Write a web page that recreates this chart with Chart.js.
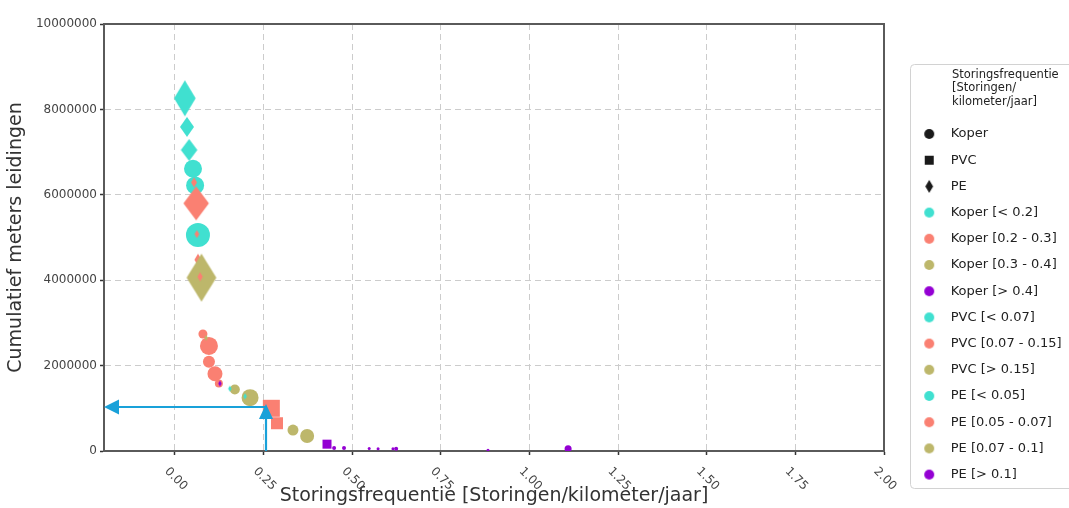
<!DOCTYPE html>
<html>
<head>
<meta charset="utf-8">
<script src="https://cdn.jsdelivr.net/npm/chart.js@4"></script>
<style>
  html, body { margin: 0; padding: 0; background: #fff; overflow: hidden; }
  #wrap { width: 1100px; height: 508px; }
</style>
</head>
<body>
<div id="wrap"><canvas id="c" width="1100" height="508"></canvas></div>
<script>
// Axis ticks
const xTickValues = [0, 0.25, 0.5, 0.75, 1, 1.25, 1.5, 1.75, 2];
const xTickLabels = ['0.00', '0.25', '0.50', '0.75', '1.00', '1.25', '1.50', '1.75', '2.00'];
const yTickValues = [0, 2000000, 4000000, 6000000, 8000000, 10000000];
const yTickLabels = ['0', '2000000', '4000000', '6000000', '8000000', '10000000'];

// Frequency classes: 0 lowest ... 3 highest
const classColors = ['#40E0D0', '#FA8072', '#BDB76B', '#9400D3'];

// Koper (circles)
const koperFreq   = [0.051, 0.057, 0.065, 0.079, 0.096, 0.096, 0.113, 0.124, 0.169, 0.212, 0.333, 0.373, 0.449, 0.477, 0.548, 0.573, 0.615, 0.624, 0.883, 1.109];
const koperMeters = [6610000, 6220000, 5060000, 2740000, 2460000, 2090000, 1810000, 1580000, 1440000, 1250000, 490000, 350000, 70000, 70000, 60000, 50000, 50000, 50000, 20000, 50000];
const koperClass  = [0, 0, 0, 1, 1, 1, 1, 1, 2, 2, 2, 2, 3, 3, 3, 3, 3, 3, 3, 3];

// PVC (squares)
const pvcFreq   = [0.272, 0.288, 0.429];
const pvcMeters = [1000000, 650000, 160000];
const pvcClass  = [1, 1, 3];

// PE (thin diamonds)
const peFreq   = [0.028, 0.034, 0.040, 0.054, 0.060, 0.062, 0.065, 0.075, 0.071, 0.088, 0.127, 0.155, 0.198];
const peMeters = [8260000, 7590000, 7050000, 6290000, 5800000, 5080000, 4480000, 4060000, 4080000, 2650000, 1580000, 1460000, 1280000];
const peClass  = [0, 0, 0, 1, 1, 1, 1, 2, 1, 2, 3, 0, 0];

// Marker sizes (px)
const koperRadius  = [9, 9, 12, 4.5, 9, 6, 7.5, 4, 5, 8.5, 5.5, 7, 2, 2, 1.5, 1.5, 1.5, 2, 1.5, 3.5];
const pvcHalfSide  = [8.5, 6, 4.5];
const peHalfHeight = [18, 10, 11, 5, 17, 4, 6, 24, 4.5, 3, 3, 3, 3];
const peWidthRatio = [0.6, 0.7, 0.75, 0.6, 0.75, 0.6, 0.6, 0.62, 0.6, 0.6, 0.6, 0.6, 0.6];

// Legend
const legendTitleLines = ['Storingsfrequentie', '[Storingen/', 'kilometer/jaar]'];
const legendLabels = ['Koper', 'PVC', 'PE',
  'Koper [< 0.2]', 'Koper [0.2 - 0.3]', 'Koper [0.3 - 0.4]', 'Koper [> 0.4]',
  'PVC [< 0.07]', 'PVC [0.07 - 0.15]', 'PVC [> 0.15]',
  'PE [< 0.05]', 'PE [0.05 - 0.07]', 'PE [0.07 - 0.1]', 'PE [> 0.1]'];
const legendClass = [null, null, null, 0, 1, 2, 3, 0, 1, 2, 0, 1, 2, 3];

// Reference arrow (frequency, cumulative meters)
const markFreq = 0.258;
const markMeters = 1030000;

const FONT = "'DejaVu Sans', 'Liberation Sans', sans-serif";
const frameColor = '#5a5a5a';
const arrowColor = '#19a1d9';
const CANVAS_W = 1100;
const LEGEND_LEFT = 901;
const LEGEND_FONT = 13;
const LEGEND_PAD = 13.2;
const LEGEND_SYMBOL_W = 30;

Chart.defaults.font.family = FONT;

// Legend width: fits its longest label so nothing is clipped
const measureCtx = document.createElement('canvas').getContext('2d');
measureCtx.font = LEGEND_FONT + 'px ' + FONT;
const longestLabel = Math.max(...legendLabels.map(t => measureCtx.measureText(t).width));
const legendWidth = Math.ceil(LEGEND_PAD + LEGEND_SYMBOL_W + LEGEND_FONT / 2 + longestLabel + 4);
const rightPad = CANVAS_W - LEGEND_LEFT - legendWidth;

// Marker images
const markerCache = {};
function makeCanvas(w, h) {
  const c = document.createElement('canvas');
  c.width = w; c.height = h;
  return c;
}
function thinDiamond(halfH, color, ratio) {
  const key = 'd' + halfH + color + ratio;
  if (markerCache[key]) return markerCache[key];
  const halfW = halfH * ratio;
  const c = makeCanvas(Math.ceil(halfW * 2) + 2, Math.ceil(halfH * 2) + 2);
  const g = c.getContext('2d');
  const cx = c.width / 2, cy = c.height / 2;
  g.fillStyle = color;
  g.beginPath();
  g.moveTo(cx, cy - halfH);
  g.lineTo(cx + halfW, cy);
  g.lineTo(cx, cy + halfH);
  g.lineTo(cx - halfW, cy);
  g.closePath();
  g.fill();
  markerCache[key] = c;
  return c;
}
function circleMarker(r, color) {
  const c = makeCanvas(r * 2 + 2, r * 2 + 2);
  const g = c.getContext('2d');
  g.fillStyle = color;
  g.beginPath();
  g.arc(c.width / 2, c.height / 2, r, 0, Math.PI * 2);
  g.fill();
  return c;
}
function squareMarker(half, color) {
  const c = makeCanvas(half * 2 + 2, half * 2 + 2);
  const g = c.getContext('2d');
  g.fillStyle = color;
  g.fillRect(1, 1, half * 2, half * 2);
  return c;
}
function legendMarker(i) {
  if (i === 0) return circleMarker(5, '#1a1a1a');
  if (i === 1) return squareMarker(4.5, '#1a1a1a');
  if (i === 2) return thinDiamond(6.5, '#1a1a1a', 0.6);
  return circleMarker(5, classColors[legendClass[i]]);
}

const points = (xs, ys) => xs.map((x, i) => ({ x, y: ys[i] }));

// Legend frame, legend title, slanted x tick labels and the reference arrows
const decor = {
  id: 'decor',
  beforeDraw(chart) {
    const lg = chart.legend, ctx = chart.ctx;
    const x = lg.left + 9.5, y = lg.top + 64.5, w = chart.width - x + 20, h = 424, r = 4;
    ctx.save();
    ctx.setLineDash([]);
    ctx.beginPath();
    ctx.moveTo(x + r, y);
    ctx.lineTo(x + w - r, y);
    ctx.arcTo(x + w, y, x + w, y + r, r);
    ctx.lineTo(x + w, y + h - r);
    ctx.arcTo(x + w, y + h, x + w - r, y + h, r);
    ctx.lineTo(x + r, y + h);
    ctx.arcTo(x, y + h, x, y + h - r, r);
    ctx.lineTo(x, y + r);
    ctx.arcTo(x, y, x + r, y, r);
    ctx.closePath();
    ctx.fillStyle = '#ffffff';
    ctx.fill();
    ctx.strokeStyle = '#d2d2d2';
    ctx.lineWidth = 1;
    ctx.stroke();
    ctx.restore();
  },
  afterDatasetsDraw(chart) {
    const ctx = chart.ctx, xs = chart.scales.x, ys = chart.scales.y, area = chart.chartArea;
    const ax = Math.round(xs.getPixelForValue(markFreq));
    const ay = Math.round(ys.getPixelForValue(markMeters));
    ctx.save();
    ctx.setLineDash([]);
    ctx.strokeStyle = arrowColor;
    ctx.fillStyle = arrowColor;
    ctx.lineWidth = 2.2;
    // vertical arrow
    ctx.beginPath();
    ctx.moveTo(ax, area.bottom);
    ctx.lineTo(ax, ay + 8);
    ctx.stroke();
    ctx.beginPath();
    ctx.moveTo(ax, ay - 3);
    ctx.lineTo(ax + 7, ay + 12);
    ctx.lineTo(ax - 7, ay + 12);
    ctx.closePath();
    ctx.fill();
    // horizontal arrow
    ctx.beginPath();
    ctx.moveTo(ax, ay);
    ctx.lineTo(area.left + 12, ay);
    ctx.stroke();
    ctx.beginPath();
    ctx.moveTo(area.left, ay);
    ctx.lineTo(area.left + 15, ay - 7.5);
    ctx.lineTo(area.left + 15, ay + 7.5);
    ctx.closePath();
    ctx.fill();
    ctx.restore();
  },
  afterDraw(chart) {
    const ctx = chart.ctx, lg = chart.legend, xs = chart.scales.x;
    ctx.save();
    // legend title
    ctx.font = '11.5px ' + FONT;
    ctx.fillStyle = '#222';
    ctx.textAlign = 'left';
    ctx.textBaseline = 'middle';
    legendTitleLines.forEach((line, i) => ctx.fillText(line, lg.left + 51, lg.top + 75 + i * 13.5));
    // x tick labels, slanted downwards
    ctx.font = '12px ' + FONT;
    ctx.fillStyle = '#444';
    ctx.textAlign = 'center';
    xTickValues.forEach((v, i) => {
      const px = xs.getPixelForValue(v);
      ctx.save();
      ctx.translate(px + 1, xs.top + 28);
      ctx.rotate(Math.PI / 4);
      ctx.fillText(xTickLabels[i], 0, 0);
      ctx.restore();
    });
    ctx.restore();
  }
};

new Chart(document.getElementById('c'), {
  type: 'scatter',
  data: {
    datasets: [
      {
        label: 'PE',
        data: points(peFreq, peMeters),
        xAxisID: 'x', yAxisID: 'y',
        order: 0,
        pointStyle: c => thinDiamond(peHalfHeight[c.dataIndex], classColors[peClass[c.dataIndex]], peWidthRatio[c.dataIndex]),
        pointRadius: c => peHalfHeight[c.dataIndex],
        pointBackgroundColor: c => classColors[peClass[c.dataIndex]],
        pointBorderWidth: 0
      },
      {
        label: 'PVC',
        data: points(pvcFreq, pvcMeters),
        xAxisID: 'x', yAxisID: 'y',
        order: 1,
        pointStyle: 'rect',
        pointRadius: c => pvcHalfSide[c.dataIndex] / Math.SQRT1_2,
        pointBackgroundColor: c => classColors[pvcClass[c.dataIndex]],
        pointBorderWidth: 0
      },
      {
        label: 'Koper',
        data: points(koperFreq, koperMeters),
        xAxisID: 'x', yAxisID: 'y',
        order: 2,
        pointStyle: 'circle',
        pointRadius: c => koperRadius[c.dataIndex],
        pointBackgroundColor: c => classColors[koperClass[c.dataIndex]],
        pointBorderWidth: 0
      }
    ]
  },
  options: {
    responsive: false,
    animation: false,
    events: [],
    layout: { padding: { left: 0, right: rightPad, top: 0, bottom: 0 } },
    plugins: {
      tooltip: { enabled: false },
      legend: {
        position: 'right',
        align: 'start',
        maxWidth: legendWidth,
        title: { display: true, text: '', padding: { top: 100.5, bottom: 0 }, font: { size: 11.5 } },
        labels: {
          usePointStyle: true,
          pointStyleWidth: LEGEND_SYMBOL_W,
          boxHeight: 7,
          padding: LEGEND_PAD,
          font: { size: LEGEND_FONT },
          generateLabels: () => legendLabels.map((text, i) => ({
            text,
            fontColor: '#222',
            fillStyle: '#000',
            strokeStyle: 'transparent',
            lineWidth: 0,
            hidden: false,
            pointStyle: legendMarker(i)
          }))
        }
      }
    },
    scales: {
      x: {
        type: 'linear',
        position: 'bottom',
        min: -0.2,
        max: 2,
        afterBuildTicks: s => { s.ticks = xTickValues.map(v => ({ value: v })); },
        afterFit: s => { s.height = 57; },
        ticks: { display: false },
        grid: { color: '#cccccc', lineWidth: 1, drawTicks: true, tickLength: 4, tickColor: '#333', tickWidth: 1.5 },
        border: { display: true, color: frameColor, width: 2, dash: [6, 4] },
        title: {
          display: true,
          text: 'Storingsfrequentie [Storingen/kilometer/jaar]',
          color: '#333',
          font: { size: 19 },
          padding: { top: 0, bottom: 1 }
        }
      },
      y: {
        type: 'linear',
        position: 'left',
        min: 0,
        max: 10000000,
        afterBuildTicks: s => { s.ticks = yTickValues.map(v => ({ value: v })); },
        afterFit: s => { s.width = 104; },
        ticks: { color: '#444', font: { size: 12 }, padding: 3, callback: (v, i) => yTickLabels[i] },
        grid: { color: '#cccccc', lineWidth: 1, drawTicks: true, tickLength: 4, tickColor: '#333', tickWidth: 1.5 },
        border: { display: true, color: frameColor, width: 2, dash: [6, 4] },
        title: {
          display: true,
          text: 'Cumulatief meters leidingen',
          color: '#333',
          font: { size: 19 },
          padding: { top: 5, bottom: 0 }
        }
      },
      xTop: {
        type: 'linear',
        position: 'top',
        min: 0, max: 1,
        afterFit: s => { s.height = 20; },
        ticks: { display: false },
        grid: { display: false, drawTicks: false },
        border: { display: true, color: frameColor, width: 2 }
      },
      yRight: {
        type: 'linear',
        position: 'right',
        min: 0, max: 1,
        afterFit: s => { s.width = 17; },
        ticks: { display: false },
        grid: { display: false, drawTicks: false },
        border: { display: true, color: frameColor, width: 2 }
      }
    }
  },
  plugins: [decor]
});
</script>
</body>
</html>
